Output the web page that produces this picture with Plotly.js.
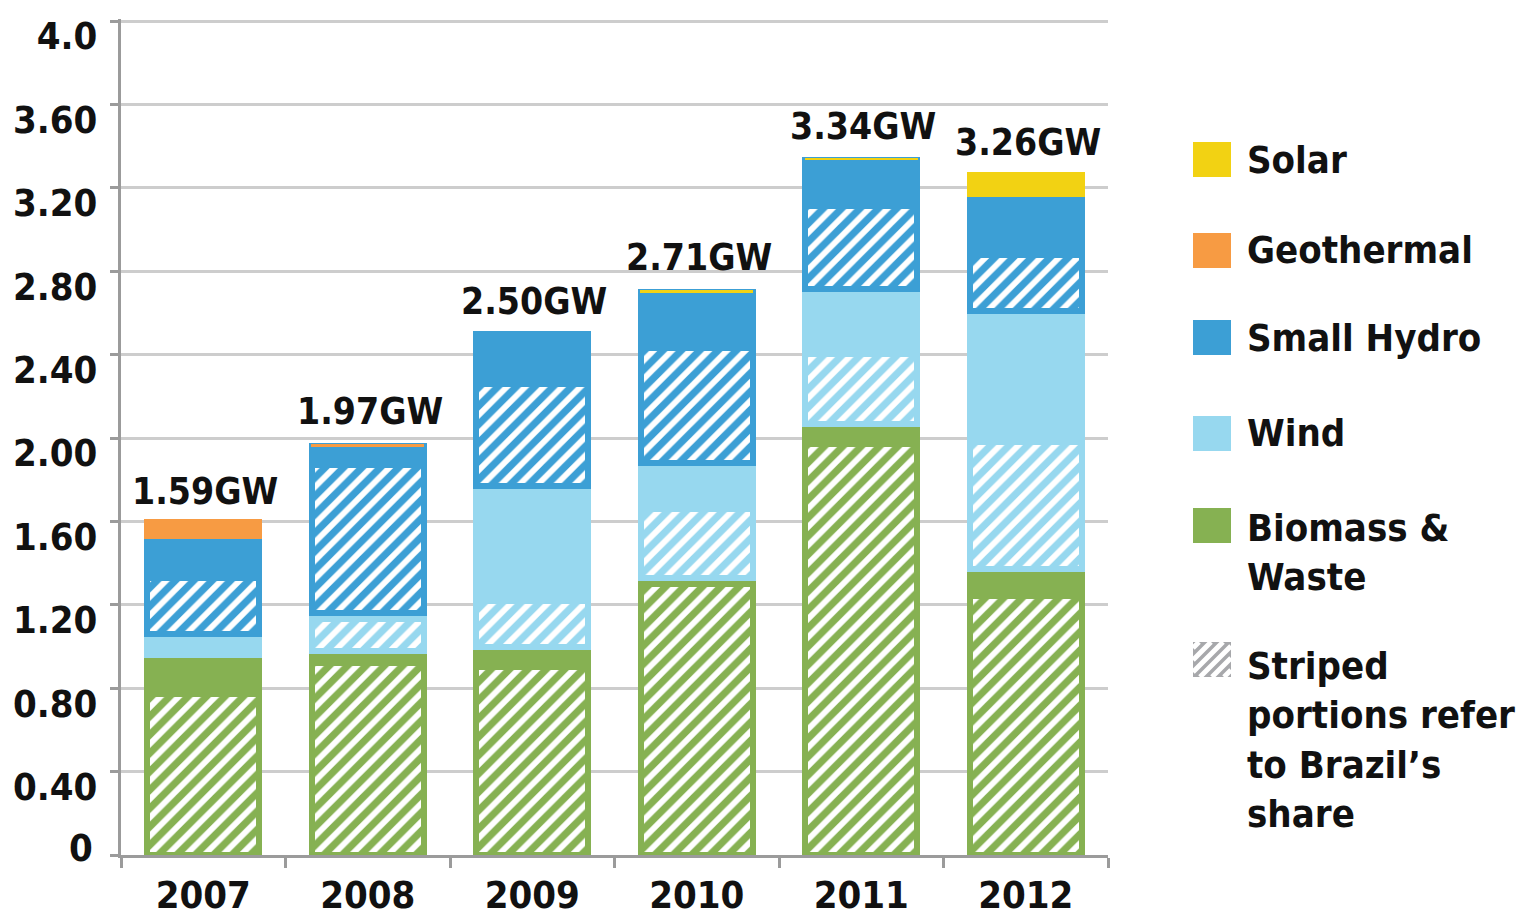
<!DOCTYPE html>
<html>
<head>
<meta charset="utf-8">
<script src="https://cdn.plot.ly/plotly-3.0.1.min.js"></script>
<style>html,body{margin:0;padding:0;background:#fff;}#chart{width:1518px;height:923px;}</style>
</head>
<body>
<div id="chart"></div>
<script>
// ---- data (GW) ----
const years = ['2007', '2008', '2009', '2010', '2011', '2012'];
const biomassBrazil = [0.77, 0.92, 0.90, 1.30, 1.97, 1.24];
const biomassOther  = [0.19, 0.06, 0.10, 0.03, 0.095, 0.13];
const windBrazil    = [0.015, 0.15, 0.22, 0.33, 0.34, 0.61];
const windOther     = [0.085, 0.03, 0.55, 0.22, 0.31, 0.63];
const hydroBrazil   = [0.27, 0.71, 0.49, 0.55, 0.40, 0.27];
const hydroOther    = [0.20, 0.09, 0.24, 0.27, 0.22, 0.29];
const geothermal    = [0.065, 0.01, 0, 0, 0, 0];
const solar         = [0, 0, 0, 0.006, 0.008, 0.09];
const totals        = [1.59, 1.97, 2.50, 2.71, 3.34, 3.26];
const totalLabels   = ['1.59GW', '1.97GW', '2.50GW', '2.71GW', '3.34GW', '3.26GW'];
const yTickVals     = [0, 0.4, 0.8, 1.2, 1.6, 2.0, 2.4, 2.8, 3.2, 3.6, 4.0];
const yTickText     = ['', '0.40', '0.80', '1.20', '1.60', '2.00', '2.40', '2.80', '3.20', '3.60', '4.0'];
const legendNames   = ['Solar', 'Geothermal', 'Small Hydro', 'Wind', 'Biomass &<br>Waste', 'Striped<br>portions refer<br>to Brazil’s<br>share'];

// ---- style ----
const C = {
  green: '#86b152', wind: '#97d8ef', hydro: '#3c9fd5',
  geo: '#f79b43', solar: '#f2d213', gray: '#a7a8ab', axis: '#9b9b9b', grid: '#cdcdcd', text: '#111111'
};
const FONT = 'DejaVu Sans Condensed, DejaVu Sans, sans-serif';
const LW = 6;

function striped(name, y, color) {
  return {
    type: 'bar', name: name, x: years, y: y, showlegend: false, hoverinfo: 'skip',
    marker: {
      color: color,
      line: {color: color, width: LW},
      pattern: {shape: '/', fillmode: 'replace', bgcolor: color, fgcolor: '#ffffff', fgopacity: 1, size: 13, solidity: 0.45}
    }
  };
}
function solid(name, y, color, lw) {
  return {
    type: 'bar', name: name, x: years, y: y, showlegend: false, hoverinfo: 'skip',
    marker: {color: color, line: {color: color, width: lw === undefined ? LW : lw}}
  };
}

const traces = [
  striped('Biomass & Waste (Brazil)', biomassBrazil, C.green),
  solid('Biomass & Waste', biomassOther, C.green),
  striped('Wind (Brazil)', windBrazil, C.wind),
  solid('Wind', windOther, C.wind),
  striped('Small Hydro (Brazil)', hydroBrazil, C.hydro),
  solid('Small Hydro', hydroOther, C.hydro),
  solid('Geothermal', geothermal, C.geo, [LW, 1, 0, 0, 0, 0]),
  solid('Solar', solar, C.solar, [0, 0, 0, 1, 1, LW])
];

// ---- pixel helpers for the legend area ----
const L = 121, R = 1108, T = 19, B = 855;
const px = v => (v - L) / (R - L);
const py = v => (B - v) / (B - T);

const shapes = [];
const annotations = [];

// totals above bars (category index on the x axis)
years.forEach((yr, i) => {
  annotations.push({
    x: i, y: totals[i], xref: 'x', yref: 'y', text: totalLabels[i], showarrow: false,
    yanchor: 'bottom', xanchor: 'center', yshift: 9, xshift: 2,
    font: {family: FONT, size: 37, color: C.text, weight: 'bold'}
  });
});

// "0" label on y axis (sits slightly above the baseline)
annotations.push({
  x: 0, y: 0, xref: 'paper', yref: 'y', text: '0', showarrow: false,
  xanchor: 'right', yanchor: 'middle', xshift: -26, yshift: 7,
  font: {family: FONT, size: 38, color: C.text, weight: 'bold'}
});

// legend
const swatchTops = [142, 233, 320, 416, 508, 642];
const swatchColors = [C.solar, C.geo, C.hydro, C.wind, C.green, C.gray];
const textCenters = [160, 250, 338, 433, 552, 740];
const sx0 = 1193, sx1 = 1231, sh = 35;
swatchTops.forEach((t, i) => {
  shapes.push({
    type: 'rect', xref: 'paper', yref: 'paper',
    x0: px(sx0), x1: px(sx1), y0: py(t + sh), y1: py(t),
    fillcolor: swatchColors[i], line: {width: 0}, layer: 'above'
  });
  annotations.push({
    x: px(1245), y: py(textCenters[i]), xref: 'paper', yref: 'paper',
    text: legendNames[i], showarrow: false, xanchor: 'left', yanchor: 'middle', align: 'left',
    font: {family: FONT, size: 38, color: C.text, weight: 'bold'}
  });
});
// white stripes on the gray swatch
(function () {
  const a = sx0, w = sx1 - sx0, b = swatchTops[5], h = sh, step = 12;
  let d = '';
  for (let c = a + b + 6; c < a + w + b + h; c += step) {
    const xs = Math.max(a, c - (b + h)), xe = Math.min(a + w, c - b);
    if (xe <= xs) continue;
    d += 'M' + px(xs) + ',' + py(c - xs) + 'L' + px(xe) + ',' + py(c - xe);
  }
  shapes.push({type: 'path', xref: 'paper', yref: 'paper', path: d,
    line: {color: '#ffffff', width: 5}, layer: 'above'});
})();

const layout = {
  width: 1518, height: 923,
  margin: {l: L, r: 1518 - R, t: T, b: 923 - B, pad: 0},
  paper_bgcolor: '#ffffff', plot_bgcolor: '#ffffff',
  barmode: 'stack', bargap: 0.32,
  showlegend: false,
  font: {family: FONT, color: C.text},
  xaxis: {
    type: 'category', range: [-0.5, 5.5], showgrid: false, zeroline: false,
    showline: true, linecolor: C.axis, linewidth: 3,
    ticks: 'outside', tickson: 'boundaries', ticklen: 10, tickwidth: 3, tickcolor: C.axis,
    tickfont: {family: FONT, size: 38, color: C.text, weight: 'bold'},
    tickangle: 0, ticklabelstandoff: 4
  },
  yaxis: {
    range: [0, 4.01], tickvals: yTickVals, ticktext: yTickText,
    showgrid: true, gridcolor: C.grid, gridwidth: 3, zeroline: false,
    showline: true, linecolor: C.axis, linewidth: 3,
    ticks: 'outside', ticklen: 8, tickwidth: 3, tickcolor: C.axis,
    tickfont: {family: FONT, size: 38, color: C.text, weight: 'bold'},
    ticklabelstandoff: 5, ticklabelshift: 15
  },
  shapes: shapes,
  annotations: annotations
};

Plotly.newPlot('chart', traces, layout, {displayModeBar: false, staticPlot: true});
</script>
</body>
</html>
